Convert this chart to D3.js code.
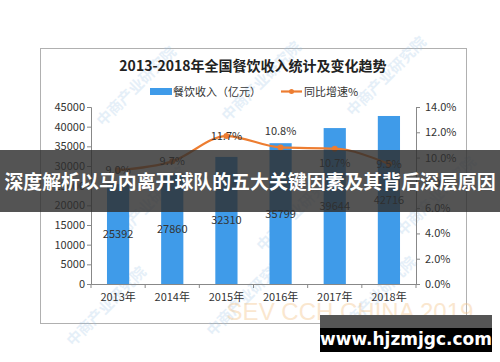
<!DOCTYPE html>
<html>
<head>
<meta charset="utf-8">
<script src="https://cdn.jsdelivr.net/npm/d3@7"></script>
<style>
  html, body { margin: 0; padding: 0; background: #fff; }
  svg { display: block; font-family: "Noto Sans CJK SC", sans-serif; }
</style>
</head>
<body>
<div id="chart"></div>
<script>
const years = ["2013年", "2014年", "2015年", "2016年", "2017年", "2018年"];
const revenue = [25392, 27860, 32310, 35799, 39644, 42716];
const growth = [0.090, 0.097, 0.117, 0.108, 0.107, 0.095];
const growthLabels = ["9.0%", "9.7%", "11.7%", "10.8%", "10.7%", "9.5%"];
const leftTicks = [0, 5000, 10000, 15000, 20000, 25000, 30000, 35000, 40000, 45000];
const rightTicks = [0, 0.02, 0.04, 0.06, 0.08, 0.10, 0.12, 0.14];
// label offsets for the growth labels (layout only)
const growthDy = [0, 0, 0, -16, 14, 0];

const w = 500, h = 362;
const plotL = 91, plotR = 416, plotT = 107, plotB = 284;

const svg = d3.select("#chart").append("svg").attr("width", w).attr("height", h);

// chart frame
svg.append("rect")
  .attr("x", 40.5).attr("y", 48.5).attr("width", 426).attr("height", 275)
  .attr("fill", "#fff").attr("stroke", "#b0b0b0");

// watermarks
const wm = [[140, 90], [265, 85], [390, 80], [150, 210], [300, 215], [440, 200], [110, 310], [250, 300], [380, 300]];
wm.forEach(p => {
  svg.append("text")
    .attr("transform", `translate(${p[0]},${p[1]}) rotate(-45)`)
    .attr("text-anchor", "middle")
    .attr("font-size", 15).attr("font-weight", "bold")
    .attr("fill", "#9cc3e6").attr("opacity", 0.25)
    .text("中商产业研究院");
});
svg.append("text")
  .attr("x", 350).attr("y", 320).attr("text-anchor", "middle")
  .attr("font-family", "Liberation Sans, sans-serif")
  .attr("font-size", 24).attr("fill", "#f5c48a").attr("opacity", 0.4)
  .text("SEV CCH CHINA 2019");

// title
svg.append("text")
  .attr("x", 253).attr("y", 71).attr("text-anchor", "middle")
  .attr("font-size", 14).attr("font-weight", "bold").attr("fill", "#222")
  .text("2013-2018年全国餐饮收入统计及变化趋势");

// legend
svg.append("rect").attr("x", 150).attr("y", 88).attr("width", 22).attr("height", 7).attr("fill", "#3f9be9");
svg.append("text").attr("x", 173).attr("y", 95.5).attr("font-size", 11).attr("fill", "#333").text("餐饮收入（亿元）");
svg.append("line").attr("x1", 281).attr("x2", 302).attr("y1", 91.5).attr("y2", 91.5)
  .attr("stroke", "#ed7d31").attr("stroke-width", 2.2);
svg.append("circle").attr("cx", 291.5).attr("cy", 91.5).attr("r", 2.5).attr("fill", "#ed7d31");
svg.append("text").attr("x", 304).attr("y", 95.5).attr("font-size", 11).attr("fill", "#333").text("同比增速%");

// scales
const x = d3.scaleBand().domain(years).range([plotL, plotR]).paddingInner(0.59).paddingOuter(0.295);
const yL = d3.scaleLinear().domain([0, 45000]).range([plotB, plotT]);
const yR = d3.scaleLinear().domain([0, 0.14]).range([plotB, plotT]);

// bars
svg.selectAll(".bar").data(revenue).enter().append("rect")
  .attr("class", "bar")
  .attr("x", (d, i) => x(years[i]))
  .attr("y", d => yL(d))
  .attr("width", x.bandwidth())
  .attr("height", d => plotB - yL(d))
  .attr("fill", "#3f9be9");

// bar labels
svg.selectAll(".blab").data(revenue).enter().append("text")
  .attr("x", (d, i) => x(years[i]) + x.bandwidth() / 2)
  .attr("y", d => (yL(d) + plotB) / 2 + 4)
  .attr("text-anchor", "middle").attr("font-size", 11).attr("fill", "#333")
  .text(d => d);

// axes
const axisStyle = g => {
  g.selectAll("path, line").attr("stroke", "#888");
  g.selectAll("text").attr("font-size", 11).attr("fill", "#333")
    .attr("font-family", "Noto Sans CJK SC, sans-serif");
};

svg.append("g").attr("transform", `translate(${plotL},0)`)
  .call(d3.axisLeft(yL).tickValues(leftTicks).tickSize(4).tickSizeOuter(4).tickPadding(2)
    .tickFormat(d3.format("d")))
  .call(axisStyle);

svg.append("g").attr("transform", `translate(${plotR},0)`)
  .call(d3.axisRight(yR).tickValues(rightTicks).tickSize(4).tickSizeOuter(4).tickPadding(5)
    .tickFormat(d3.format(".1%")))
  .call(axisStyle);

const xAxis = svg.append("g").attr("transform", `translate(0,${plotB})`)
  .call(d3.axisBottom(x).tickSize(0).tickSizeOuter(0).tickPadding(9))
  .call(axisStyle);
// tick marks between categories
const bounds = d3.range(years.length + 1).map(i => plotL + i * x.step());
xAxis.selectAll(".sep").data(bounds).enter().append("line")
  .attr("x1", d => d).attr("x2", d => d).attr("y1", 0).attr("y2", 4).attr("stroke", "#888");

// growth line
const line = d3.line()
  .x((d, i) => x(years[i]) + x.bandwidth() / 2)
  .y(d => yR(d))
  .curve(d3.curveMonotoneX);
svg.append("path").datum(growth).attr("d", line)
  .attr("fill", "none").attr("stroke", "#ed7d31").attr("stroke-width", 2.2);
svg.selectAll(".pt").data(growth).enter().append("circle")
  .attr("cx", (d, i) => x(years[i]) + x.bandwidth() / 2)
  .attr("cy", d => yR(d)).attr("r", 3).attr("fill", "#ed7d31");
svg.selectAll(".glab").data(growth).enter().append("text")
  .attr("x", (d, i) => x(years[i]) + x.bandwidth() / 2)
  .attr("y", (d, i) => yR(d) + growthDy[i] + 4)
  .attr("text-anchor", "middle").attr("font-size", 11).attr("fill", "#333")
  .text((d, i) => growthLabels[i]);

// overlay banner
svg.append("rect").attr("x", 0).attr("y", 150).attr("width", w).attr("height", 62)
  .attr("fill", "#2e2e2e").attr("opacity", 0.82);
svg.append("text").attr("x", w / 2).attr("y", 188.5).attr("text-anchor", "middle")
  .attr("font-size", 18.9).attr("font-weight", "bold").attr("fill", "#fff")
  .text("深度解析以马内离开球队的五大关键因素及其背后深层原因");

// site box
svg.append("rect").attr("x", 320).attr("y", 315).attr("width", 172).attr("height", 13).attr("fill", "#555");
svg.append("rect").attr("x", 320).attr("y", 328).attr("width", 172).attr("height", 24).attr("fill", "#000");
svg.append("text").attr("x", 406).attr("y", 345).attr("text-anchor", "middle")
  .attr("font-family", "DejaVu Sans, sans-serif")
  .attr("font-size", 17).attr("font-weight", "bold").attr("fill", "#fff")
  .text("www.hjzmjgc.com");
</script>
</body>
</html>
